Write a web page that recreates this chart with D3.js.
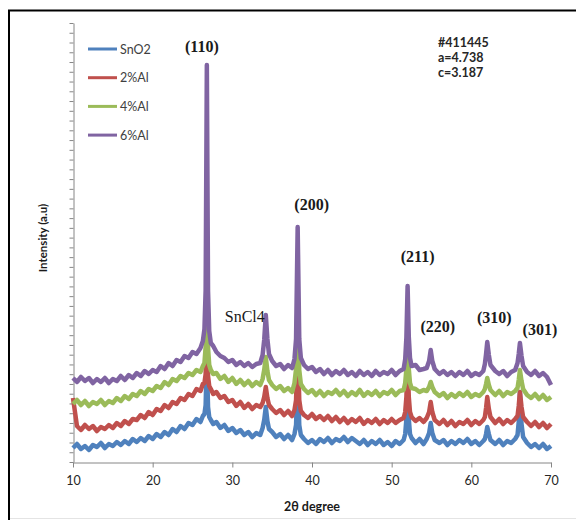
<!DOCTYPE html>
<html>
<head>
<meta charset="utf-8">
<script src="https://cdn.jsdelivr.net/npm/d3@7"></script>
<style>
  html, body { margin: 0; padding: 0; background: #fff; }
  svg { display: block; }
</style>
</head>
<body>
<svg id="chart" width="576" height="520"></svg>
<script>
// ---- Data ----
const angles = [10,10.5,11,11.5,12,12.5,13,13.5,14,14.5,15,15.5,16,16.5,17,17.5,18,18.5,19,19.5,
  20,20.5,21,21.5,22,22.5,23,23.5,24,24.5,25,25.5,26,26.3,26.5,26.65,26.8,26.95,27.1,27.3,27.6,
  28,28.5,29,29.5,30,30.5,31,31.5,32,32.5,33,33.5,33.8,34.0,34.2,34.4,34.6,35,35.5,36,36.5,37,37.5,
  37.8,38.0,38.2,38.4,38.6,39,39.5,40,40.5,41,41.5,42,42.5,43,43.5,44,44.5,45,45.5,46,46.5,47,47.5,
  48,48.5,49,49.5,50,50.5,51,51.5,51.7,51.85,52.0,52.15,52.3,52.5,53,53.5,54,54.4,54.7,54.9,55.1,55.4,
  56,56.5,57,57.5,58,58.5,59,59.5,60,60.5,61,61.5,61.7,61.85,62.0,62.2,62.4,63,63.5,64,64.5,65,65.5,
  65.8,65.95,66.1,66.3,66.5,67,67.5,68,68.5,69,69.5,70];

const sno2 = [14,18,13,16,12,17,15,19,14,18,16,20,17,21,18,23,20,24,21,26,
  23,28,25,30,27,33,30,36,33,39,37,43,40,46,48,57,104,55,45,42,38,
  40,34,37,31,34,29,32,27,30,25,29,27,34,42,55,41,33,30,25,28,23,27,22,
  28,37,90,37,27,23,19,22,18,23,20,24,19,23,21,25,20,24,21,18,22,17,21,
  18,22,17,20,16,21,18,22,28,43,75,43,28,24,19,23,18,23,29,39,29,22,
  19,22,17,21,18,22,19,23,18,21,17,21,23,28,35,28,22,18,22,17,21,19,23,
  27,40,70,38,25,19,15,18,14,18,13,16];

const al2 = [64,36,32,37,33,36,31,35,33,37,34,39,36,41,38,43,42,47,44,50,
  47,53,51,57,54,60,58,64,62,68,66,73,71,78,79,88,140,86,76,73,68,
  70,64,66,60,62,56,60,54,58,53,57,55,59,65,75,64,57,53,49,52,47,51,46,
  52,62,120,62,51,47,44,48,43,46,42,46,41,45,40,44,39,43,40,44,38,42,39,
  43,38,42,39,43,39,42,44,50,65,100,65,50,45,41,44,40,44,50,60,50,42,
  38,42,37,41,36,40,38,42,37,41,38,42,45,54,65,53,45,39,43,38,42,39,43,
  46,56,70,55,45,40,36,40,35,39,34,38];

const al4 = [58,62,57,61,56,60,58,62,57,61,59,64,61,66,63,68,66,71,68,73,
  71,76,74,80,77,83,81,86,84,89,87,92,90,96,99,115,207,114,97,92,88,
  89,83,86,80,84,78,82,77,81,76,80,77,83,92,105,91,82,77,73,76,71,74,70,
  79,93,172,92,78,73,69,72,67,71,66,70,68,72,67,71,66,70,67,72,66,70,67,
  71,66,70,68,72,67,71,72,79,93,127,93,79,74,73,70,72,71,75,80,75,70,
  66,69,64,68,65,69,66,70,65,68,66,70,73,78,84,77,72,67,71,66,70,68,71,
  74,82,92,81,73,67,64,68,63,67,62,65];

const al6 = [84,80,85,81,84,79,83,80,84,79,83,81,86,82,87,84,89,86,91,88,
  92,90,96,93,99,96,102,100,106,104,110,108,114,121,133,172,397,171,131,119,116,
  110,106,104,100,102,97,100,96,99,95,98,99,107,122,147,123,108,101,96,98,93,97,94,
  103,123,235,123,104,97,93,95,90,93,88,92,87,91,88,92,87,90,86,91,87,90,86,
  91,87,90,88,92,87,91,93,103,125,176,125,104,96,97,92,93,94,101,112,101,93,
  88,91,87,90,86,90,87,91,86,89,87,91,98,108,120,107,97,91,88,91,86,90,92,
  99,108,119,106,96,90,87,91,86,89,85,77];

const seriesNames = ["SnO2", "2%Al", "4%Al", "6%Al"];
const seriesColors = ["#4F81BD", "#C0504D", "#9BBB59", "#8064A2"];
const seriesValues = [sno2, al2, al4, al6];

const xTicks = [10, 20, 30, 40, 50, 60, 70];
const xDomain = [10, 70];
const yMax = 439;
const yTickIntervals = 45;

const peakLabels = ["(110)", "SnCl4", "(200)", "(211)", "(220)", "(310)", "(301)"];
const peakAngles = [26.8, 34.2, 38.2, 52.0, 54.9, 62.0, 66.1];
const peakLabelValues = [410, 140, 252, 200, 130, 139, 127];
const peakBold = [true, false, true, true, true, true, true];

const infoLines = ["#411445", "a=4.738", "c=3.187"];

// ---- Drawing ----
const svg = d3.select("#chart");

// outer frame (cut off at right & bottom in the reference)
svg.append("rect").attr("x", 9).attr("y", 10.5).attr("width", 620).attr("height", 620)
  .attr("fill", "none").attr("stroke", "#000").attr("stroke-width", 2);
svg.append("line").attr("x1", 10).attr("x2", 576).attr("y1", 518.5).attr("y2", 518.5)
  .attr("stroke", "#e4e4e4").attr("stroke-width", 1);

const x = d3.scaleLinear().domain(xDomain).range([73, 551]);
const y = d3.scaleLinear().domain([0, yMax]).range([462, 23]);

const axisColor = "#868686";

// y axis with minor ticks, no labels
const yTickVals = d3.range(yTickIntervals + 1).map(i => i * yMax / yTickIntervals);
const yAxis = svg.append("g").attr("transform", "translate(73.5,0)")
  .call(d3.axisLeft(y).tickValues(yTickVals).tickSize(4).tickFormat("").tickSizeOuter(0));
yAxis.selectAll("line").attr("stroke", axisColor);
yAxis.select(".domain").attr("stroke", axisColor);

// x axis
const xAxis = svg.append("g").attr("transform", "translate(0,462.5)")
  .call(d3.axisBottom(x).tickValues(xTicks).tickSize(5).tickSizeOuter(0).tickPadding(9));
xAxis.select(".domain").attr("stroke", axisColor);
xAxis.selectAll("line").attr("stroke", axisColor);
xAxis.selectAll("text").attr("font-family", "Lato, 'Open Sans', sans-serif")
  .attr("font-size", 12.5).attr("fill", "#262626");

// series
const line = d3.line().x((d, i) => x(angles[i])).y(d => y(d));
seriesValues.forEach((vals, k) => {
  svg.append("path").datum(vals)
    .attr("d", line)
    .attr("fill", "none")
    .attr("stroke", seriesColors[k])
    .attr("stroke-width", 4.5)
    .attr("stroke-linejoin", "round");
});

// axis titles
svg.append("text").attr("x", 312).attr("y", 511).attr("text-anchor", "middle")
  .attr("font-family", "Lato, sans-serif").attr("font-weight", "bold").attr("font-size", 12.5)
  .attr("fill", "#1a1a1a").text("2θ degree");
svg.append("text").attr("transform", "translate(47,238) rotate(-90)").attr("text-anchor", "middle")
  .attr("font-family", "Lato, sans-serif").attr("font-weight", "bold").attr("font-size", 11.5)
  .attr("fill", "#1a1a1a").text("Intensity (a.u)");

// legend
const legend = svg.append("g");
seriesNames.forEach((name, k) => {
  const ly = 49 + k * 28.7;
  legend.append("line").attr("x1", 88).attr("x2", 117).attr("y1", ly).attr("y2", ly)
    .attr("stroke", seriesColors[k]).attr("stroke-width", 3);
  legend.append("text").attr("x", 120).attr("y", ly + 4.5)
    .attr("font-family", "Lato, sans-serif").attr("font-size", 12.5).attr("fill", "#404040")
    .text(name);
});

// info text
infoLines.forEach((t, i) => {
  svg.append("text").attr("x", 438).attr("y", 47 + i * 15)
    .attr("font-family", "Lato, sans-serif").attr("font-weight", "bold").attr("font-size", 12.5)
    .attr("fill", "#262626").text(t);
});

// peak labels
peakLabels.forEach((t, i) => {
  svg.append("text")
    .attr("x", x(peakAngles[i]) + (i === 0 ? -5 : i === 1 ? -21 : i === 2 ? 14 : i === 3 ? 10 : i === 4 ? 7 : i === 5 ? 7 : 20))
    .attr("y", y(peakLabelValues[i]))
    .attr("text-anchor", "middle")
    .attr("font-family", "'Liberation Serif', 'DejaVu Serif', serif")
    .attr("font-weight", peakBold[i] ? "bold" : "normal")
    .attr("font-size", 16)
    .attr("fill", "#1a1a1a")
    .text(t);
});
</script>
</body>
</html>
